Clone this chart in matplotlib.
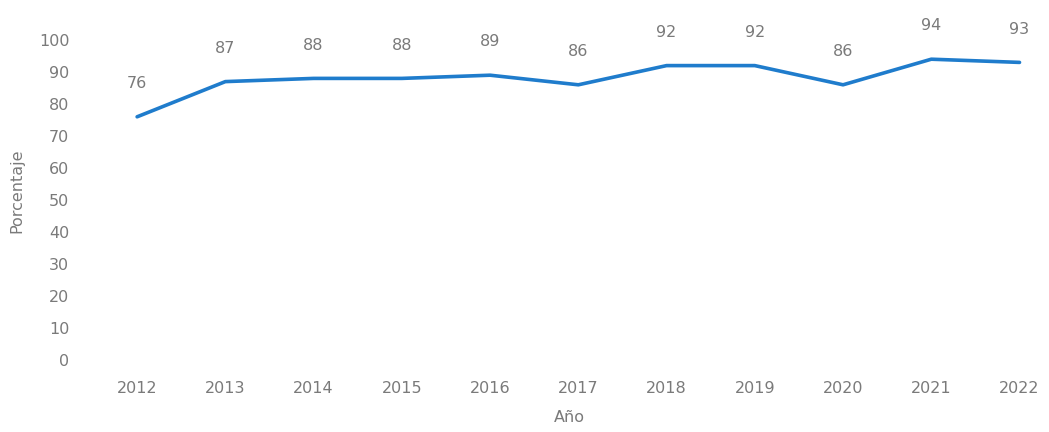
import matplotlib
matplotlib.use("Agg")
import matplotlib.pyplot as plt

years = ["2012", "2013", "2014", "2015", "2016", "2017", "2018", "2019", "2020", "2021", "2022"]
values = [76, 87, 88, 88, 89, 86, 92, 92, 86, 94, 93]
yticks = [0, 10, 20, 30, 40, 50, 60, 70, 80, 90, 100]

W, H = 1049, 432
fig = plt.figure(figsize=(W / 100, H / 100), dpi=100)
ax = fig.add_axes([93 / W, (H - 360) / H, (1046 - 93) / W, 320 / H])

x = list(range(len(years)))
ax.plot(x, values, color="#1f7ccc", linewidth=2.6, solid_capstyle="round", solid_joinstyle="round")
ax.set_xlim(-0.5, 10.3)
ax.set_ylim(0, 100)

txt = "#7a7a7a"
fs = 11.5
for xi, v in zip(x, values):
    ax.annotate(str(v), (xi, v), xytext=(0, 24), textcoords="offset points",
                ha="center", va="center", fontsize=fs, color=txt)

ax.set_xticks(x)
ax.set_xticklabels(years)
ax.set_yticks(yticks)
ax.tick_params(axis="both", length=0, labelsize=fs, labelcolor=txt)
ax.tick_params(axis="y", pad=17)
ax.tick_params(axis="x", pad=15)
for s in ax.spines.values():
    s.set_visible(False)
ax.set_xlabel("Año", fontsize=fs, color=txt, labelpad=10)
ax.set_ylabel("Porcentaje", fontsize=fs, color=txt, labelpad=4)
ax.yaxis.set_label_coords(-0.072, 0.53)

fig.savefig("out.png", dpi=100, facecolor="white")
